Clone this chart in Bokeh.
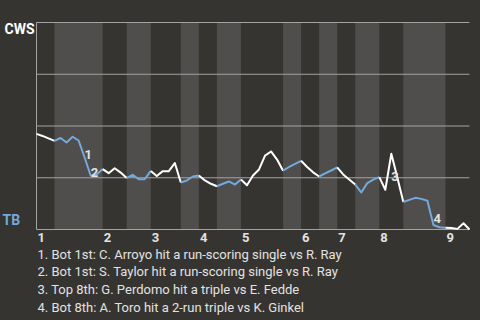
from bokeh.plotting import figure
from bokeh.models import Range1d
from bokeh.core.properties import value
from bokeh.embed import file_html
from bokeh.resources import INLINE

# CWS win probability (%) after each plate appearance
wp = [46.2, 45.2, 44.0, 42.8, 44.2, 42.0, 44.8, 43.0, 34.8, 26.1,
      26.6, 29.2, 27.2, 29.6, 27.5, 24.9, 26.4, 24.3, 24.3, 28.3,
      25.8, 28.2, 28.2, 32.1, 22.7, 23.7, 25.6, 26.1, 23.7, 22.1,
      20.9, 22.1, 23.2, 21.7, 24.2, 21.4, 26.1, 29.0, 35.7, 37.7,
      33.8, 28.4, 30.2, 31.7, 33.2, 30.2, 27.6, 25.6, 27.1, 28.5,
      30.0, 26.6, 24.2, 21.7, 17.9, 22.4, 24.1, 25.3, 19.2, 36.6,
      25.1, 13.3, 14.3, 15.3, 14.8, 13.9, 2.2, 1.1, 0.8, 0.7,
      0.3, 3.0, 0.0]

# plate-appearance index where each half inning starts (last = end of game)
half_bounds = [0, 3, 11, 15, 19, 24, 27, 30, 34, 41, 44, 47, 50, 53, 57, 61, 68, 72]
inning_labels = ["1", "2", "3", "4", "5", "6", "7", "8", "9"]

event_idx = [8, 9, 59, 66]
event_marks = ["1", "2", "3", "4"]
event_label_y = [36.2, 27.5, 25.6, 5.3]
event_texts = [
    "1. Bot 1st: C. Arroyo hit a run-scoring single vs R. Ray",
    "2. Bot 1st: S. Taylor hit a run-scoring single vs R. Ray",
    "3. Top 8th: G. Perdomo hit a triple vs E. Fedde",
    "4. Bot 8th: A. Toro hit a 2-run triple vs K. Ginkel",
]
grid_levels = [0, 25, 50, 75, 100]
team_top = "CWS"
team_bottom = "TB"

BG = "#363430"
STRIPE = "#4f4e4c"
GRID = "#a3a3a3"
BLUE = "#74a9dc"
TXT = "#e2e2e2"
FONT = value("Roboto")

# layout of the chart area inside the 480x320 canvas (pixels)
W, H = 480, 320
L, R, T, B = 36, 469, 22, 229
n_last = len(wp) - 1
ppx = (R - L) / n_last
ppy = (B - T) / 100.0
x_range = Range1d(-L / ppx, n_last + (W - R) / ppx)
y_range = Range1d(-(H - B) / ppy, 100 + T / ppy)

p = figure(width=W, height=H, x_range=x_range, y_range=y_range,
           output_backend="svg", toolbar_location=None,
           x_axis_location=None, y_axis_location=None,
           min_border=0, background_fill_color=BG, border_fill_color=BG,
           outline_line_color=None)
p.grid.visible = False
p.styles = {"background-color": BG}

# bottom-half-inning stripes
bot_left = half_bounds[1:-1:2]
bot_right = half_bounds[2::2]
p.quad(left=bot_left, right=bot_right, bottom=0, top=100,
       fill_color=STRIPE, line_color=None)

# horizontal grid lines and left axis line
p.segment(x0=[0] * len(grid_levels), x1=[n_last] * len(grid_levels),
          y0=grid_levels, y1=grid_levels, line_color=GRID, line_width=1)
p.segment(x0=[0], x1=[0], y0=[0], y1=[100], line_color=GRID, line_width=1)

# win-probability line: white for top halves, blue for bottom halves
xs, ys, cols = [], [], []
for h in range(len(half_bounds) - 1):
    a, b = half_bounds[h], half_bounds[h + 1]
    xs.append(list(range(a, b + 1)))
    ys.append(wp[a:b + 1])
    cols.append("white" if h % 2 == 0 else BLUE)
p.multi_line(xs=xs, ys=ys, line_color=cols, line_width=2, line_join="round")

# event markers
p.text(x=event_idx, y=event_label_y, text=event_marks, text_font=FONT,
       text_font_style="bold", text_font_size="13px", text_color=TXT,
       text_align="left", text_baseline="middle")

# inning numbers
inn_x = half_bounds[0:-1:2]
p.text(x=inn_x, y=[0] * len(inn_x), text=inning_labels, text_font=FONT,
       text_font_style="bold", text_font_size="13px", text_color=TXT,
       text_align="left", text_baseline="middle", x_offset=1, y_offset=8)

# team labels
p.text(x=[0], y=[100], text=[team_top], text_font=FONT, text_font_style="bold",
       text_font_size="14px", text_color="white", text_align="right",
       text_baseline="middle", x_offset=-2, y_offset=6)
p.text(x=[0], y=[0], text=[team_bottom], text_font=FONT, text_font_style="bold",
       text_font_size="14px", text_color=BLUE, text_align="left",
       text_baseline="middle", x_offset=-34, y_offset=-10)

# event descriptions
p.text(x=[0] * len(event_texts), y=[0] * len(event_texts), text=event_texts,
       y_offset=[24.5 + 17.8 * k for k in range(len(event_texts))], x_offset=1,
       text_font=FONT, text_font_size="13px", text_color=TXT,
       text_align="left", text_baseline="middle")

open("out.html", "w").write(file_html(p, INLINE))
